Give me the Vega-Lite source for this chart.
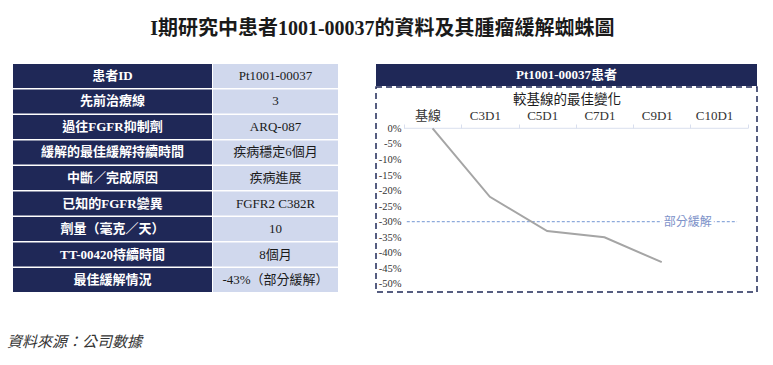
{
  "$schema": "https://vega.github.io/schema/vega-lite/v6.json",
  "background": "white",
  "padding": {"left": 7, "top": 19, "right": 0, "bottom": 0},
  "config": {"view": {"stroke": null}},
  "spacing": 37,
  "title": {
    "text": "I期研究中患者1001-00037的資料及其腫瘤緩解蜘蛛圖",
    "font": "Liberation Serif, Noto Sans CJK TC",
    "fontSize": 20,
    "fontWeight": "bold",
    "color": "#1a1a1a",
    "anchor": "middle",
    "frame": "bounds",
    "offset": 25
  },
  "datasets": {
    "table": [
      {"item": "患者ID", "value": "Pt1001-00037"},
      {"item": "先前治療線", "value": "3"},
      {"item": "過往FGFR抑制劑", "value": "ARQ-087"},
      {"item": "緩解的最佳緩解持續時間", "value": "疾病穩定6個月"},
      {"item": "中斷／完成原因", "value": "疾病進展"},
      {"item": "已知的FGFR變異", "value": "FGFR2 C382R"},
      {"item": "劑量（毫克／天）", "value": "10"},
      {"item": "TT-00420持續時間", "value": "8個月"},
      {"item": "最佳緩解情況", "value": "-43%（部分緩解）"}
    ],
    "spider": [
      {"visit": "基線", "change": 0},
      {"visit": "C3D1", "change": -22},
      {"visit": "C5D1", "change": -33},
      {"visit": "C7D1", "change": -35},
      {"visit": "C9D1", "change": -43}
    ],
    "threshold": [
      {"label": "部分緩解", "level": -30, "from": "基線", "to": "C10D1", "at": "C9D1"}
    ],
    "baseline": [
      {"level": 0, "from": "基線", "to": "C10D1"}
    ],
    "header": [{"label": "Pt1001-00037患者"}]
  },
  "hconcat": [
    {
      "title": {
        "text": "資料來源：公司數據",
        "orient": "bottom",
        "anchor": "start",
        "frame": "group",
        "font": "Liberation Serif, Noto Sans CJK TC",
        "fontSize": 15,
        "fontStyle": "italic",
        "fontWeight": "normal",
        "color": "#333333",
        "offset": 43,
        "dx": -6
      },
      "spacing": 1,
      "hconcat": [
        {
          "width": 199,
          "height": 228,
          "data": {"name": "table"},
          "layer": [
            {
              "mark": {"type": "rect", "color": "#1f2857"},
              "encoding": {
                "y": {"field": "item", "type": "nominal", "sort": null, "axis": null,
                      "scale": {"paddingInner": 0.06, "paddingOuter": 0}}
              }
            },
            {
              "mark": {"type": "text", "color": "white", "font": "Liberation Serif, Noto Sans CJK TC",
                       "fontSize": 13, "fontWeight": "bold", "baseline": "middle"},
              "encoding": {
                "y": {"field": "item", "type": "nominal", "sort": null, "axis": null},
                "text": {"field": "item"}
              }
            }
          ]
        },
        {
          "width": 125,
          "height": 228,
          "data": {"name": "table"},
          "layer": [
            {
              "mark": {"type": "rect", "color": "#d0d8ed"},
              "encoding": {
                "y": {"field": "item", "type": "nominal", "sort": null, "axis": null,
                      "scale": {"paddingInner": 0.06, "paddingOuter": 0}}
              }
            },
            {
              "mark": {"type": "text", "color": "#1a1a1a", "font": "Liberation Serif, Noto Sans CJK TC",
                       "fontSize": 13, "baseline": "middle"},
              "encoding": {
                "y": {"field": "item", "type": "nominal", "sort": null, "axis": null},
                "text": {"field": "value"}
              }
            }
          ]
        }
      ]
    },
    {
      "spacing": 0,
      "vconcat": [
        {
          "width": 381,
          "height": 22,
          "view": {"fill": "#1f2857", "stroke": null},
          "data": {"name": "header"},
          "mark": {"type": "text", "color": "white", "font": "Liberation Serif, Noto Sans CJK TC",
                   "fontSize": 13, "fontWeight": "bold", "baseline": "middle"},
          "encoding": {"text": {"field": "label"}}
        },
        {
          "width": 381,
          "height": 205,
          "view": {"fill": "white", "stroke": "#1f2857", "strokeDash": [6, 4], "strokeWidth": 1.5},
          "resolve": {"axis": {"x": "independent", "y": "independent"}},
          "layer": [
            {
              "data": {"name": "baseline"},
              "mark": {"type": "rule", "stroke": "#d9dfee", "strokeWidth": 1, "x2Offset": 29},
              "encoding": {
                "x": {"field": "from", "type": "nominal", "bandPosition": 0, "axis": null},
                "x2": {"field": "to"},
                "y": {"field": "level", "type": "quantitative", "axis": null}
              }
            },
            {
              "data": {"name": "threshold"},
              "mark": {"type": "rule", "stroke": "#8eaadb", "strokeDash": [3, 2], "strokeWidth": 1.2, "x2Offset": 18},
              "encoding": {
                "x": {"field": "from", "type": "nominal", "bandPosition": 0.05, "axis": null},
                "x2": {"field": "to"},
                "y": {"field": "level", "type": "quantitative", "axis": null}
              }
            },
            {
              "data": {"name": "threshold"},
              "mark": {"type": "text", "stroke": "white", "strokeWidth": 5, "fill": "white",
                       "font": "Liberation Serif, Noto Sans CJK TC", "fontSize": 12, "dx": 26, "baseline": "middle"},
              "encoding": {
                "x": {"field": "at", "type": "nominal", "axis": null},
                "y": {"field": "level", "type": "quantitative", "axis": null},
                "text": {"field": "label"}
              }
            },
            {
              "data": {"name": "threshold"},
              "mark": {"type": "text", "color": "#7d92c9",
                       "font": "Liberation Serif, Noto Sans CJK TC", "fontSize": 12, "dx": 26, "baseline": "middle"},
              "encoding": {
                "x": {"field": "at", "type": "nominal", "axis": null},
                "y": {"field": "level", "type": "quantitative", "axis": null},
                "text": {"field": "label"}
              }
            },
            {
              "data": {"name": "spider"},
              "mark": {"type": "line", "stroke": "#a5a5a5", "strokeWidth": 2},
              "encoding": {
                "x": {
                  "field": "visit", "type": "nominal",
                  "scale": {"type": "band", "domain": ["基線", "C3D1", "C5D1", "C7D1", "C9D1", "C10D1"],
                            "paddingInner": 0, "paddingOuter": 0.325, "align": 0.75},
                  "axis": {
                    "orient": "top", "offset": -41,
                    "title": "較基線的最佳變化",
                    "titleFont": "Liberation Serif, Noto Sans CJK TC", "titleFontSize": 13.5,
                    "titleFontWeight": "normal", "titleColor": "#1a1a1a", "titlePadding": 3,
                    "labelFont": "Liberation Serif, Noto Sans CJK TC", "labelFontSize": 13,
                    "labelColor": "#333333", "labelAngle": 0, "labelPadding": 2, "labelOffset": -5,
                    "domain": false, "tickColor": "#d9dfee", "tickSize": 4, "tickBand": "extent",
                    "grid": false
                  }
                },
                "y": {
                  "field": "change", "type": "quantitative",
                  "scale": {"domain": [-52.57, 13.26], "nice": false, "zero": false},
                  "axis": {
                    "orient": "left", "offset": -27, "title": null,
                    "values": [0, -5, -10, -15, -20, -25, -30, -35, -40, -45, -50],
                    "labelExpr": "datum.value + '%'", "labelOverlap": false,
                    "labelFont": "Liberation Serif", "labelFontSize": 10.5, "labelColor": "#333333",
                    "labelPadding": 2, "domain": false, "ticks": false, "grid": false
                  }
                }
              }
            }
          ]
        }
      ]
    }
  ]
}
